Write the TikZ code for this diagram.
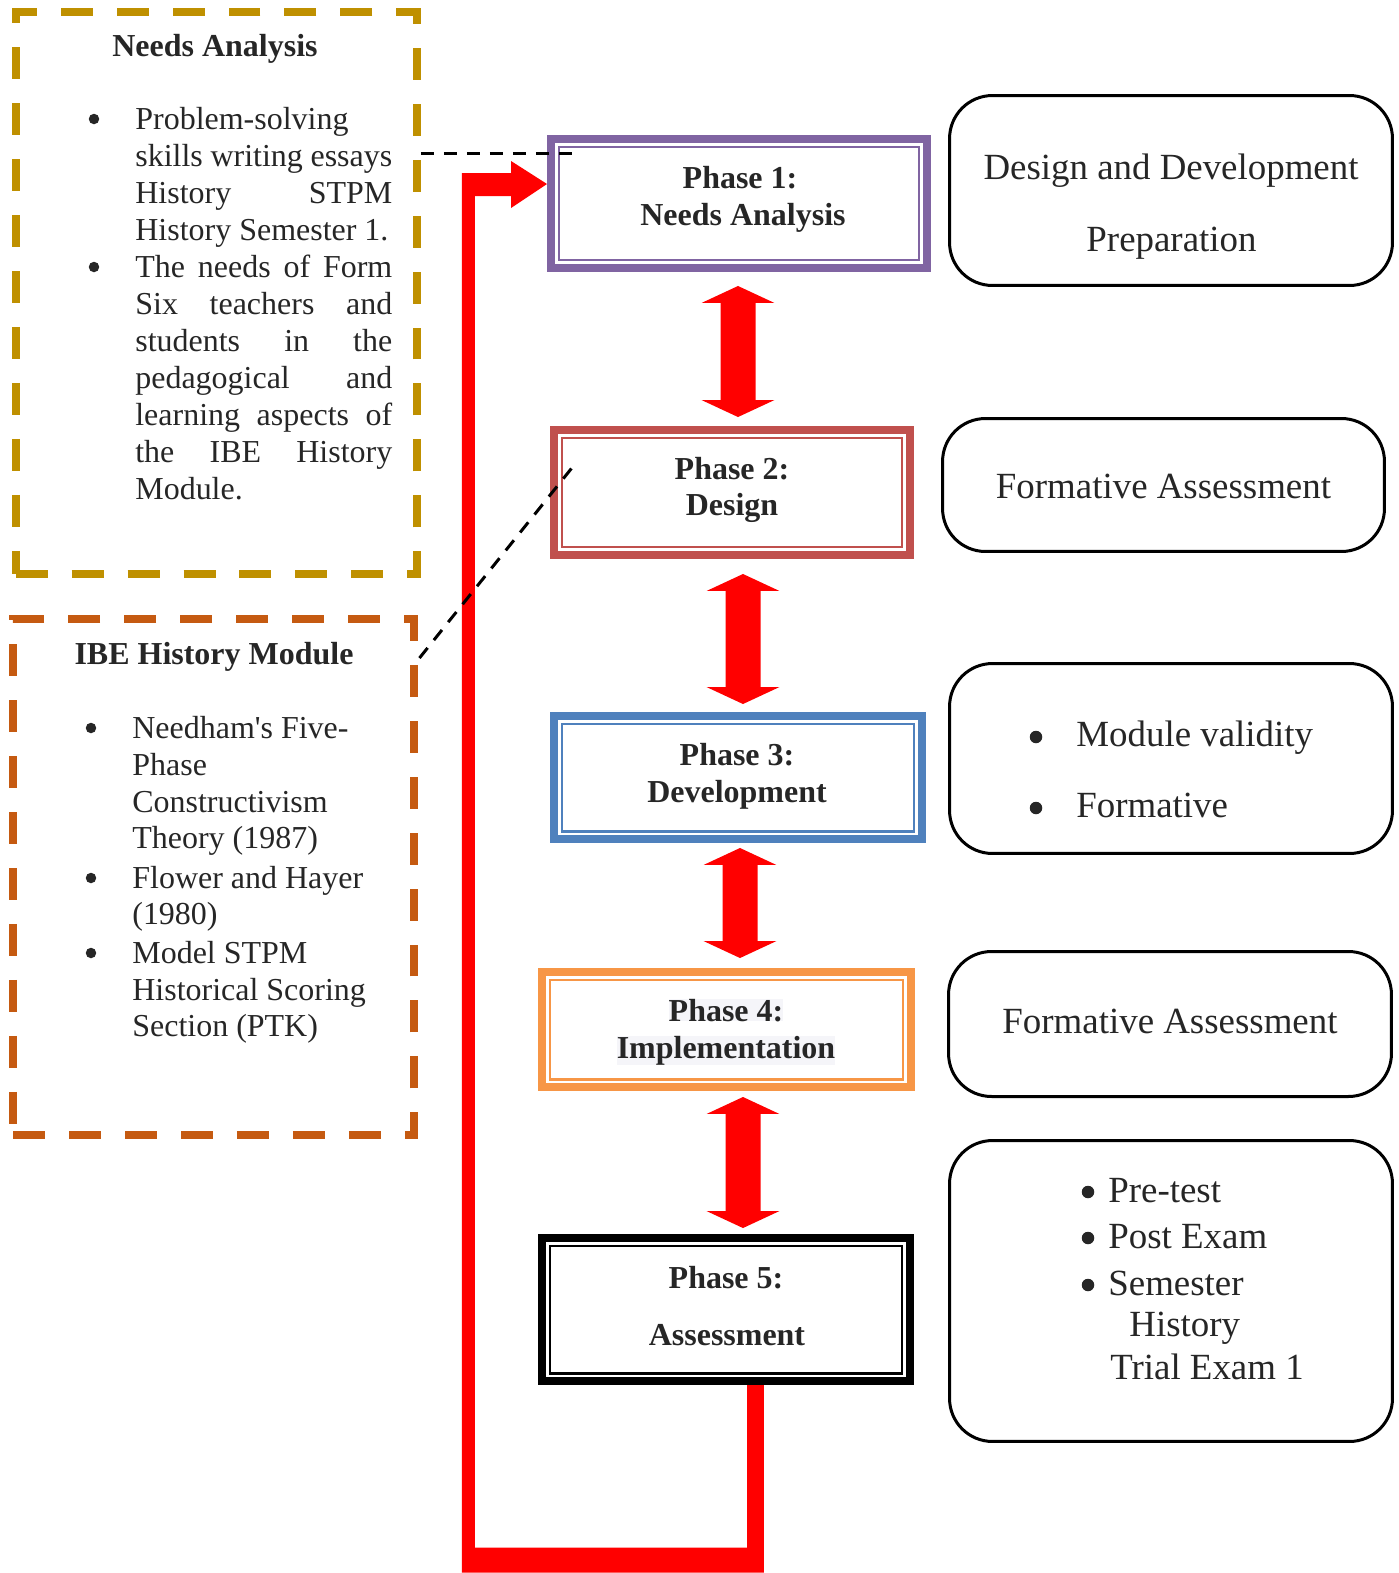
\documentclass[tikz,border=0pt]{standalone}
\usepackage{fontspec}
\setmainfont{Liberation Serif}
\usetikzlibrary{calc}
\definecolor{tc}{RGB}{38,38,38}
\definecolor{gold}{RGB}{191,144,0}
\definecolor{rust}{RGB}{197,90,17}
\definecolor{ppurple}{RGB}{128,100,162}
\definecolor{pred}{RGB}{192,80,77}
\definecolor{pblue}{RGB}{79,129,189}
\definecolor{porange}{RGB}{247,150,70}
\definecolor{loopred}{RGB}{255,0,0}
\definecolor{hl}{RGB}{245,245,249}
\tikzset{
  txt/.style={font=\fontsize{18.2}{21}\selectfont, text=tc, inner sep=0pt},
  btxt/.style={font=\fontsize{18.2}{21}\selectfont\bfseries, text=tc, inner sep=0pt},
  rtxt/.style={font=\fontsize{21}{26}\selectfont, text=tc, inner sep=0pt},
  phasebox/.style={draw=#1, line width=0.16cm, inner sep=0pt},
  rbox/.style={draw=black, line width=0.06cm, rounded corners=0.86cm, inner sep=0pt},
  dbox/.style={draw=#1, line width=0.16cm, dash pattern=on 0.64cm off 0.48cm, inner sep=0pt},
  dashline/.style={black, line width=0.06cm, dash pattern=on 0.26cm off 0.2cm},
  bul/.style={circle, fill=tc, inner sep=0pt, minimum size=#1},
}
\newcommand\innerframe[2]{\draw[#2, line width=0.05cm] ([shift={(0.235cm,-0.235cm)}]#1.north west) rectangle ([shift={(-0.235cm,0.235cm)}]#1.south east);}
\newcommand\blockdbl[2]{\fill[loopred] let \p{a}=(#1), \p{b}=(#2) in
  (\x{a},\y{a}) -- (\x{a}+0.73cm,\y{a}-0.34cm) -- (\x{a}+0.35cm,\y{a}-0.34cm) --
  (\x{b}+0.35cm,\y{b}+0.34cm) -- (\x{b}+0.73cm,\y{b}+0.34cm) -- (\x{b},\y{b}) --
  (\x{b}-0.73cm,\y{b}+0.34cm) -- (\x{b}-0.35cm,\y{b}+0.34cm) --
  (\x{a}-0.35cm,\y{a}-0.34cm) -- (\x{a}-0.73cm,\y{a}-0.34cm) -- cycle;}
\newcommand\myline[5]{\node[#1, anchor=base west] (#2) at (#3,-#4) {#5};}
\newcommand\mybul[4]{\node[bul=#1] (#2) at (#3,-#4) {};}
\begin{document}
\begin{tikzpicture}[x=0.02cm, y=0.02cm]
\useasboundingbox (0,0) rectangle (1399,-1573);

% ---------- left dashed boxes ----------
\node[dbox=gold, minimum width=8.03cm, minimum height=11.24cm] (na) at (216.25,-293) {};
\node[dbox=rust, minimum width=8.03cm, minimum height=10.32cm] (ibe) at (213.75,-877) {};

\node[btxt, anchor=base] (nat) at (215,-56) {Needs Analysis};
\mybul{0.21cm}{nab1}{94}{119}
\myline{txt}{nal1}{135}{129}{Problem-solving}
\myline{txt}{nal2}{135}{166}{\makebox[5.14cm][s]{skills writing essays}}
\myline{txt}{nal3}{135}{203}{\makebox[5.14cm][s]{History STPM}}
\myline{txt}{nal4}{135}{240}{History Semester 1.}
\mybul{0.21cm}{nab2}{94}{267}
\myline{txt}{nal5}{135}{277}{\makebox[5.14cm][s]{The needs of Form}}
\myline{txt}{nal6}{135}{314}{\makebox[5.14cm][s]{Six teachers and}}
\myline{txt}{nal7}{135}{351}{\makebox[5.14cm][s]{students in the}}
\myline{txt}{nal8}{135}{388}{\makebox[5.14cm][s]{pedagogical and}}
\myline{txt}{nal9}{135}{425}{\makebox[5.14cm][s]{learning aspects of}}
\myline{txt}{nal10}{135}{462}{\makebox[5.14cm][s]{the IBE History}}
\myline{txt}{nal11}{135}{499}{Module.}

\node[btxt, anchor=base] (ibet) at (214,-664) {IBE History Module};
\mybul{0.21cm}{ibb1}{91}{728}
\myline{txt}{ibl1}{132}{738}{Needham\textquotesingle s Five-}
\myline{txt}{ibl2}{132}{775}{Phase}
\myline{txt}{ibl3}{132}{812}{Constructivism}
\myline{txt}{ibl4}{132}{848}{Theory (1987)}
\mybul{0.21cm}{ibb2}{91}{878}
\myline{txt}{ibl5}{132}{888}{Flower and Hayer}
\myline{txt}{ibl6}{132}{924}{(1980)}
\mybul{0.21cm}{ibb3}{91}{953}
\myline{txt}{ibl7}{132}{963}{Model STPM}
\myline{txt}{ibl8}{132}{1000}{Historical Scoring}
\myline{txt}{ibl9}{132}{1036}{Section (PTK)}

% ---------- phase boxes ----------
\node[phasebox=ppurple, minimum width=7.52cm, minimum height=2.58cm] (p1) at (739,-203.5) {};
\node[phasebox=pred, minimum width=7.12cm, minimum height=2.5cm] (p2) at (732,-492.5) {};
\node[phasebox=pblue, minimum width=7.36cm, minimum height=2.46cm] (p3) at (738,-777.5) {};
\node[phasebox=porange, minimum width=7.38cm, minimum height=2.3cm] (p4) at (726.5,-1029.5) {};
\node[phasebox=black, minimum width=7.36cm, minimum height=2.86cm] (p5) at (726,-1309.5) {};
\innerframe{p1}{ppurple}
\innerframe{p2}{pred}
\innerframe{p3}{pblue}
\innerframe{p4}{porange}
\innerframe{p5}{black}

\node[btxt, anchor=base] (p1a) at (740,-188) {Phase 1:};
\node[btxt, anchor=base] (p1b) at (743,-225) {Needs Analysis};
\node[btxt, anchor=base] (p2a) at (732,-479) {Phase 2:};
\node[btxt, anchor=base] (p2b) at (732,-515) {Design};
\node[btxt, anchor=base] (p3a) at (737,-765) {Phase 3:};
\node[btxt, anchor=base] (p3b) at (737,-802) {Development};
\node[btxt, anchor=base, fill=hl] (p4a) at (726,-1021) {Phase 4:};
\node[btxt, anchor=base, fill=hl] (p4b) at (726,-1058) {Implementation};
\node[btxt, anchor=base] (p5a) at (726,-1288) {Phase 5:};
\node[btxt, anchor=base] (p5b) at (727,-1345) {Assessment};

% ---------- right rounded boxes ----------
\node[rbox, minimum width=8.86cm, minimum height=3.8cm] (r1) at (1171,-190.5) {};
\node[rbox, minimum width=8.84cm, minimum height=2.66cm] (r2) at (1163.5,-485) {};
\node[rbox, minimum width=8.86cm, minimum height=3.8cm] (r3) at (1171,-758.5) {};
\node[rbox, minimum width=8.86cm, minimum height=2.9cm] (r4) at (1170,-1024) {};
\node[rbox, minimum width=8.86cm, minimum height=6.02cm] (r5) at (1171,-1291) {};

\node[rtxt, anchor=base] (r1a) at (1171,-179) {Design and Development};
\node[rtxt, anchor=base] (r1b) at (1171.5,-251) {Preparation};
\node[rtxt, anchor=base] (r2a) at (1163.5,-498) {Formative Assessment};
\mybul{0.25cm}{r3b1}{1036}{737}
\myline{rtxt}{r3a}{1076}{746}{Module validity}
\mybul{0.25cm}{r3b2}{1036}{808}
\myline{rtxt}{r3c}{1076}{817}{Formative}
\node[rtxt, anchor=base] (r4a) at (1170,-1033) {Formative Assessment};
\mybul{0.25cm}{r5b1}{1088}{1192}
\myline{rtxt}{r5a}{1108}{1202}{Pre-test}
\mybul{0.25cm}{r5b2}{1088}{1238}
\myline{rtxt}{r5c}{1108}{1248}{Post Exam}
\mybul{0.25cm}{r5b3}{1088}{1285}
\myline{rtxt}{r5d}{1108}{1295}{Semester}
\myline{rtxt}{r5e}{1129}{1336}{History}
\myline{rtxt}{r5f}{1110}{1379}{Trial Exam 1}

% ---------- double arrows between phases ----------
\coordinate (a1t) at ($(p1.south)+(-0.02cm,-0.28cm)$);
\coordinate (a1b) at ($(a1t |- p2.north)+(0,0.18cm)$);
\blockdbl{a1t}{a1b}
\coordinate (a2t) at ($(p2.south)+(0.22cm,-0.3cm)$);
\coordinate (a2b) at ($(a2t |- p3.north)+(0,0.16cm)$);
\blockdbl{a2t}{a2b}
\coordinate (a3t) at ($(p3.south)+(0.04cm,-0.1cm)$);
\coordinate (a3b) at ($(a3t |- p4.north)+(0,0.2cm)$);
\blockdbl{a3t}{a3b}
\coordinate (a4t) at ($(p4.south)+(0.33cm,-0.12cm)$);
\coordinate (a4b) at ($(a4t |- p5.north)+(0,0.12cm)$);
\blockdbl{a4t}{a4b}

% ---------- feedback loop ----------
\fill[loopred] let \p{t}=($(p1.west)+(0,0.39cm)$), \p{s}=($(p5.south)+(0.59cm,0)$) in
  (\x{t},\y{t}) -- (\x{t}-0.72cm,\y{t}+0.46cm) -- (\x{t}-0.72cm,\y{t}+0.22cm) --
  (9.24cm,\y{t}+0.22cm) -- (9.24cm,-31.46cm) -- (\x{s}+0.17cm,-31.46cm) --
  (\x{s}+0.17cm,\y{s}) -- (\x{s}-0.17cm,\y{s}) -- (\x{s}-0.17cm,-30.96cm) --
  (9.5cm,-30.96cm) -- (9.5cm,\y{t}-0.24cm) -- (\x{t}-0.72cm,\y{t}-0.24cm) --
  (\x{t}-0.72cm,\y{t}-0.48cm) -- cycle;

% ---------- dashed connectors ----------
\coordinate (d1e) at (572,-153);
\draw[dashline] (na.north east |- d1e) -- (d1e);
\coordinate (d2e) at (575,-464);
\draw[dashline] ($(ibe.north east)+(0.02cm,-0.86cm)$) -- (d2e);
\end{tikzpicture}
\end{document}
